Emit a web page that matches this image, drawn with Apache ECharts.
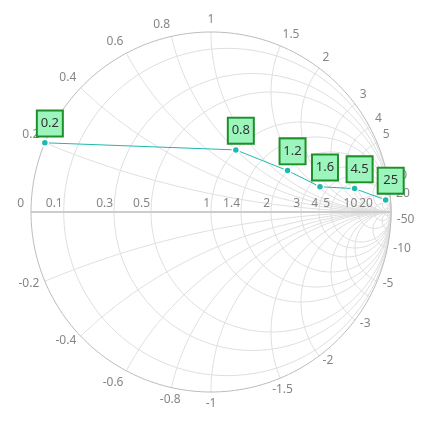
<!DOCTYPE html>
<html>
<head>
<meta charset="utf-8">
<script src="https://cdn.jsdelivr.net/npm/echarts@6/dist/echarts.min.js"></script>
<style>
  html, body { margin: 0; padding: 0; background: #fff; }
  #smithChart { width: 426px; height: 434px; }
</style>
</head>
<body>
<div id="smithChart"></div>
<script>
// Smith chart grid values
const resistanceCircles = [0.1, 0.3, 0.5, 1, 1.4, 2, 3, 4, 5, 10, 20, 50];
const reactanceArcs = [0.2, 0.4, 0.6, 0.8, 1, 1.5, 2, 3, 4, 5, 10, 20, 50];
const resistanceLabels = [0, 0.1, 0.3, 0.5, 1, 1.4, 2, 3, 4, 5, 10, 20];
const reactanceLabels = [0.2, 0.4, 0.6, 0.8, 1, 1.5, 2, 3, 4, 5, 10, 20,
    -0.2, -0.4, -0.6, -0.8, -1, -1.5, -2, -3, -5, -10, -50];

// Impedance points (normalized r + jx)
const pointResistance = [0, 1, 2, 3.5, 6, 10];
const pointReactance = [0.2, 0.8, 1.2, 1.6, 4.5, 25];
const pointLabels = ['0.2', '0.8', '1.2', '1.6', '4.5', '25'];

const FONT = 'Noto Sans';
const GRID_COLOR = '#dedede';

// z -> reflection coefficient
function gamma(r, x) {
    const d = (r + 1) * (r + 1) + x * x;
    return [(r * r + x * x - 1) / d, (2 * x) / d];
}

function circlePoints(cx, cy, rad, a0, a1, n) {
    const pts = [];
    for (let i = 0; i <= n; i++) {
        const a = a0 + (a1 - a0) * i / n;
        pts.push([cx + rad * Math.cos(a), cy + rad * Math.sin(a)]);
    }
    return pts;
}

function gridLine(data, color, width) {
    return {
        type: 'line', data: data, symbol: 'none', silent: true, clip: false,
        lineStyle: { color: color, width: width }, z: 1
    };
}

const series = [];

// resistance circles
resistanceCircles.forEach(r => {
    series.push(gridLine(circlePoints(r / (1 + r), 0, 1 / (1 + r), 0, Math.PI * 2, 160), GRID_COLOR, 1));
});

// reactance arcs (both signs)
reactanceArcs.forEach(x => {
    const g = gamma(0, x);
    let a0 = Math.atan2(g[1] - 1 / x, g[0] - 1);
    if (a0 < 0) a0 += Math.PI * 2;
    const arc = circlePoints(1, 1 / x, 1 / x, a0, Math.PI * 1.5, 120);
    series.push(gridLine(arc, GRID_COLOR, 1));
    series.push(gridLine(arc.map(p => [p[0], -p[1]]), GRID_COLOR, 1));
});

// real axis + outer circle
series.push(gridLine([gamma(0, 0), gamma(1e9, 0)], '#cccccc', 2));
series.push(gridLine(circlePoints(0, 0, 1, 0, Math.PI * 2, 240), '#bbbbbb', 1));

// resistance tick labels along the real axis
series.push({
    type: 'scatter', symbolSize: 0, silent: true, z: 3,
    data: resistanceLabels.map(r => ({
        value: gamma(r, 0),
        label: { formatter: String(r), offset: [r === 0 ? -7 : -1, -2] }
    })),
    label: {
        show: true, position: 'inside', align: 'right', verticalAlign: 'bottom',
        color: '#666', fontSize: 12, fontFamily: FONT
    }
});

// reactance tick labels around the rim
series.push({
    type: 'scatter', symbolSize: 0, silent: true, z: 3,
    data: reactanceLabels.map(x => {
        const g = gamma(0, x);
        const c = g[0], s = g[1];
        let align, vAlign;
        if (x > 0) {
            align = c < -0.15 ? 'right' : (c > 0.15 ? 'left' : 'center');
            vAlign = s > 0.3 ? 'bottom' : 'middle';
        } else {
            align = c < -0.45 ? 'right' : (c > 0.45 ? 'left' : 'center');
            vAlign = s < -0.85 ? 'top' : 'middle';
        }
        return {
            value: g,
            label: {
                formatter: String(x), align: align, verticalAlign: vAlign,
                offset: [c * 6, -s * 6]
            }
        };
    }),
    label: {
        show: true, position: 'inside', color: '#666', fontSize: 12, fontFamily: FONT
    }
});

// impedance data
series.push({
    type: 'line', z: 5, clip: false,
    data: pointResistance.map((r, i) => ({
        value: gamma(r, pointReactance[i]),
        label: { formatter: pointLabels[i] }
    })),
    symbol: 'circle', symbolSize: 7,
    lineStyle: { color: '#1fb8ae', width: 1 },
    itemStyle: { color: '#1fb8ae', borderColor: '#fff', borderWidth: 1.5 },
    label: {
        show: true, position: 'top', distance: 3, offset: [5, 0],
        fontSize: 13, fontFamily: FONT, color: '#333',
        backgroundColor: '#9cf5bd', borderColor: '#1f8f2a', borderWidth: 2,
        width: 20, height: 20, lineHeight: 20, padding: [2, 2]
    }
});

const chart = echarts.init(document.getElementById('smithChart'));
chart.setOption({
    animation: false,
    grid: { left: 13, top: 14, width: 396, height: 396 },
    xAxis: { type: 'value', min: -1.1, max: 1.1, show: false },
    yAxis: { type: 'value', min: -1.1, max: 1.1, show: false },
    series: series
});
window.addEventListener('resize', () => chart.resize());
</script>
</body>
</html>
